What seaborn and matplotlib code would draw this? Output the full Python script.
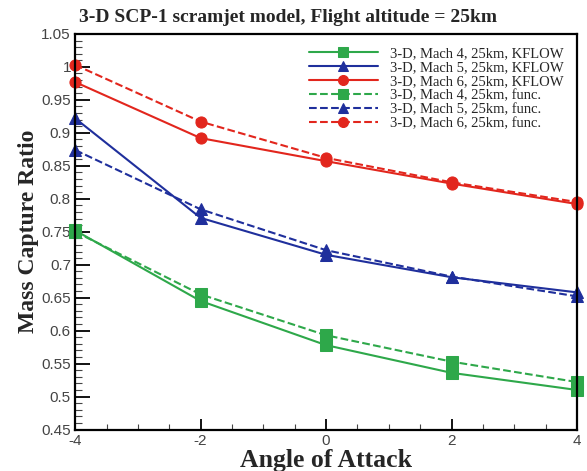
import matplotlib
matplotlib.use('Agg')
import matplotlib.pyplot as plt
import seaborn as sns
import pandas as pd
from matplotlib.ticker import MultipleLocator

# Data
AOA = [-4, -2, 0, 2, 4]
M4_KFLOW = [0.752, 0.645, 0.578, 0.536, 0.510]
M5_KFLOW = [0.922, 0.771, 0.715, 0.681, 0.658]
M6_KFLOW = [0.977, 0.892, 0.857, 0.823, 0.792]
M4_FUNC = [0.750, 0.655, 0.593, 0.553, 0.522]
M5_FUNC = [0.874, 0.784, 0.722, 0.682, 0.652]
M6_FUNC = [1.003, 0.917, 0.862, 0.825, 0.795]

LABELS = ['3-D, Mach 4, 25km, KFLOW', '3-D, Mach 5, 25km, KFLOW', '3-D, Mach 6, 25km, KFLOW',
          '3-D, Mach 4, 25km, func.', '3-D, Mach 5, 25km, func.', '3-D, Mach 6, 25km, func.']
YTICKS = [0.45, 0.5, 0.55, 0.6, 0.65, 0.7, 0.75, 0.8, 0.85, 0.9, 0.95, 1.0, 1.05]
YTICKLABELS = ['0.45', '0.5', '0.55', '0.6', '0.65', '0.7', '0.75', '0.8', '0.85', '0.9', '0.95', '1', '1.05']

GREEN = '#2ea84a'
BLUE = '#1f2f9c'
RED = '#e2261d'

series = [
    (M4_KFLOW, GREEN, 's', '-'),
    (M5_KFLOW, BLUE, '^', '-'),
    (M6_KFLOW, RED, 'o', '-'),
    (M4_FUNC, GREEN, 's', '--'),
    (M5_FUNC, BLUE, '^', '--'),
    (M6_FUNC, RED, 'o', '--'),
]

sns.set_theme(style='ticks')
plt.rcParams['font.family'] = ['Liberation Sans', 'DejaVu Sans']
plt.rcParams['axes.unicode_minus'] = False

fig = plt.figure(figsize=(5.87, 4.71), dpi=100)
ax = fig.add_axes([0.128, 0.088, 0.855, 0.840])

for (vals, col, mk, ls), lab in zip(series, LABELS):
    df = pd.DataFrame({'AoA': AOA, 'ratio': vals})
    sns.lineplot(data=df, x='AoA', y='ratio', ax=ax, color=col, marker=mk,
                 markersize=8, markeredgecolor=col, linestyle=ls, linewidth=1.5,
                 label=lab, clip_on=False)

ax.set_xlim(-4, 4)
ax.set_ylim(0.45, 1.05)
ax.xaxis.set_major_locator(MultipleLocator(2))
ax.xaxis.set_minor_locator(MultipleLocator(0.5))
ax.yaxis.set_minor_locator(MultipleLocator(0.01))
ax.set_yticks(YTICKS)
ax.set_yticklabels(YTICKLABELS)
ax.tick_params(which='major', direction='in', length=8, width=1.3, labelsize=11,
               labelcolor='#444444', color='black', pad=3)
ax.tick_params(axis='y', which='major', length=11)
ax.tick_params(which='minor', direction='in', length=4, width=0.8, color='#444444')
ax.tick_params(axis='y', which='minor', length=5)
for s in ax.spines.values():
    s.set_linewidth(1.6)
    s.set_color('black')

ax.set_xlabel('Angle of Attack', family='Liberation Serif', fontweight='bold', fontsize=18.5, labelpad=1)
ax.set_ylabel('Mass Capture Ratio', family='Liberation Serif', fontweight='bold', fontsize=17, labelpad=2)
fig.text(0.49, 0.962, '3-D SCP-1 scramjet model, Flight altitude = 25km', family='Liberation Serif',
         fontweight='bold', fontsize=14, ha='center', va='center')

ax.legend(loc='upper right', bbox_to_anchor=(1.0, 1.0), frameon=False, handlelength=4.75,
          prop={'family': 'Liberation Serif', 'size': 10.5}, labelspacing=0.05, handletextpad=0.85,
          markerscale=0.9, borderaxespad=0.5)

fig.savefig('out.png', dpi=100)
